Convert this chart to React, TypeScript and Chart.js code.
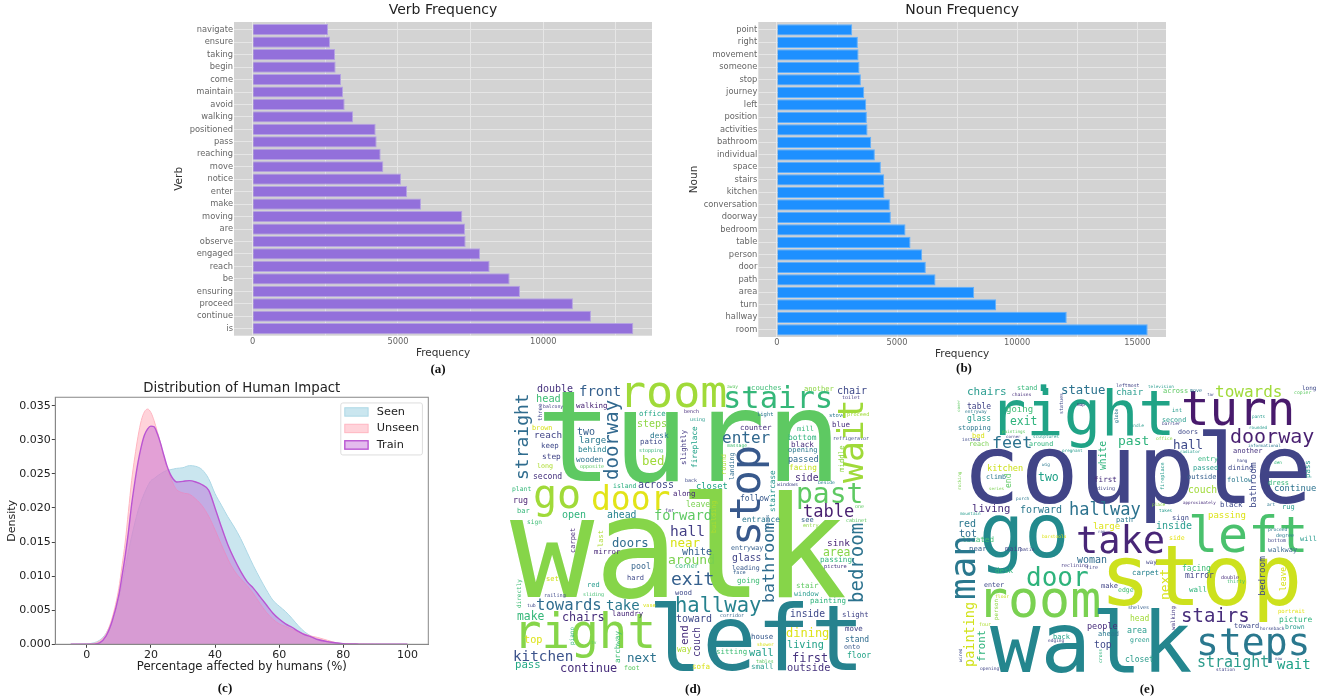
import React, { useEffect, useRef } from "react";
import Chart from "chart.js/auto";

const verbs = ["navigate","ensure","taking","begin","come","maintain","avoid","walking","positioned","pass","reaching","move","notice","enter","make","moving","are","observe","engaged","reach","be","ensuring","proceed","continue","is"];
const verbCounts = [2592,2660,2833,2855,3040,3108,3165,3452,4232,4266,4404,4495,5103,5310,5791,7213,7305,7328,7821,8154,8842,9197,11020,11640,13096];
const nouns = ["point","right","movement","someone","stop","journey","left","position","activities","bathroom","individual","space","stairs","kitchen","conversation","doorway","bedroom","table","person","door","path","area","turn","hallway","room"];
const nounCounts = [3133,3369,3397,3438,3494,3632,3716,3743,3771,3923,4076,4326,4464,4478,4700,4741,5351,5560,6045,6197,6599,8207,9122,12062,15431];

const kdeX = [-5,0,2,4,6,8,10,11,12,13,14,15,16,17,18,19,20,21,22,23,24,25,26,27,28,30,32,34,36,38,40,42,44,46,48,50,52,54,56,58,60,62,64,66,68,70,72,75,78,80,85,90,100];
const seenDensity = [0,.00005,.0002,.0006,.0016,.0036,.0068,.0088,.0112,.0136,.0158,.0178,.0196,.021,.0222,.0232,.024,.0243,.0247,.025,.0253,.0255,.0256,.0257,.0258,.0259,.0262,.0261,.0256,.0243,.0221,.0204,.0187,.0172,.0155,.0135,.0115,.0097,.008,.0065,.0056,.0048,.0038,.0027,.0018,.0012,.0008,.0004,.0002,.0001,.00003,.00001,0];
const unseenDensity = [0,.00002,.0001,.0005,.0015,.004,.0082,.0115,.015,.0195,.024,.0275,.0305,.0328,.0341,.0345,.034,.0328,.0312,.0295,.0276,.026,.0246,.0235,.0227,.0222,.022,.0213,.0203,.0188,.0168,.0146,.0125,.0108,.0096,.0086,.0074,.006,.0047,.0037,.003,.0026,.0022,.0018,.0015,.0012,.001,.0006,.0002,.0001,.00005,.00002,0];
const trainDensity = [0,0,.00002,.0002,.0012,.0035,.0072,.01,.013,.0165,.0205,.0238,.0267,.029,.0307,.0316,.032,.0319,.0309,.0295,.0278,.0262,.025,.0242,.0238,.0239,.024,.0238,.0234,.0226,.02,.0172,.0146,.0125,.0107,.0092,.0082,.007,.0058,.0046,.0037,.003,.0025,.0019,.0014,.0011,.0007,.0004,.0002,.0001,.00003,.00001,0];

type W = [string, number, number, number, string, number?];

const cloudD: W[] = [
["walk",510,597,140,"#86d549"],["turn",536,481,127,"#5ec962"],["left",648,670,90,"#26828e"],["right",513,648,47.5,"#86d549"],["room",619,407,45,"#a0da39"],
["stairs",723,408,30.5,"#35b779"],["go",533,508,40,"#a0da39"],["door",591,510,33,"#e2e418"],["past",796,503,28,"#5ec962"],["table",803,517,17,"#481f70"],
["enter",722,443,16,"#31688e"],["chair",837,394,10,"#3e4989"],["couches",751,390,7.3,"#3dbc74"],["another",804,391,7.1,"#8ed645"],["away",727,388,4.6,"#5ec962"],
["toilet",842,399,5,"#443983"],["light",757,416,5.5,"#2a788e"],["stove",829,417,5.5,"#2a788e"],["proceed",847,416,5.3,"#a0da39"],["counter",740,430,7.5,"#46327e"],
["blue",832,427,7.5,"#472d7b"],["mill",797,431,7,"#35b779"],["bottom",788,440,7.9,"#2eb37c"],["refrigerator",833,440,5,"#3e4989"],["massage",727,447,4.8,"#42be71"],
["black",791,447,7.6,"#472d7b"],["opening",788,452,7,"#2a788e"],["passed",788,462,8.5,"#31688e"],["facing",789,470,7.7,"#c5e021"],["side",795,481,9.8,"#472d7b"],
["windows",777,486,5,"#414487"],["beside",818,484,4.7,"#26828e"],["closet",696,489,8.8,"#20a386"],["follow",740,501,8,"#38598c"],["one",855,508,5,"#5ec962"],
["entrance",742,522,7.9,"#2a788e"],["see",801,522,7,"#35608d"],["cabinet",846,522,5,"#5ec962"],["entry",803,527,5.2,"#8ed645"],["bench",684,413,5,"#472d7b"],["using",690,421,5,"#2a9d8f"],["back",685,482,5,"#3e4989"],
["double",537,392,10,"#46327e"],["front",579,396,14,"#35608d"],["head",536,402,10.3,"#3dbc74"],["balcony",543,408,4.8,"#433e85"],["walking",576,408,7.5,"#482475"],
["office",639,416,7.4,"#21a585"],["steps",637,427,10,"#8ed645"],["reach",534,438,9.3,"#414487"],["two",577,435,10,"#355f8d"],["large",579,443,9,"#2a788e"],["brown",532,430,6.8,"#d8e219"],
["keep",541,448,7.4,"#3e4989"],["behind",578,452,7.9,"#26828e"],["desk",650,438,7.7,"#2a788e"],["patio",640,444,7.4,"#3e4989"],["stopping",639,452,5,"#35b779"],["bed",642,465,12.4,"#a0da39"],
["step",542,459,7.8,"#414487"],["wooden",576,462,7.6,"#2e6e8e"],["long",537,468,6.7,"#addc30"],["opposite",580,468,5,"#5ec962"],["second",533,479,8.1,"#46327e"],["plant",512,491,6.4,"#35b779"],
["island",613,488,6.5,"#29af7f"],["across",638,488,10,"#3f4788"],["along",673,496,7.5,"#482878"],["rug",513,503,8.3,"#481f70"],["bar",517,513,7,"#35b779"],["sign",527,524,6.2,"#3dbc74"],
["open",562,518,10,"#2fb47c"],["ahead",607,518,9.8,"#26828e"],["forward",654,520,13.8,"#5ec962"],["leave",686,507,8,"#7ad151"],["far",665,512,5,"#443983"],["hall",670,536,14.6,"#433e85"],
["hallway",675,612,20.5,"#26828e"],["near",670,547,12.5,"#d8e219"],["white",682,555,10,"#35608d"],["around",668,564,13,"#7ad151"],["exit",671,585,18,"#35608d"],["doors",612,547,12.2,"#2f6c8e"],
["mirror",594,554,7.3,"#482878"],["pool",631,569,8.3,"#3e6b91"],["hard",627,580,7,"#3e4989"],["set",546,581,7,"#d0e11c"],["red",587,587,7,"#2a9d8f"],["railing",544,597,5.2,"#3e4989"],
["sliding",583,596,5,"#42be71"],["tub",527,607,4.8,"#3e4989"],["towards",536,610,15.6,"#2f6c8e"],["take",606,610,14,"#2a788e"],["vase",643,607,5.3,"#d8e219"],["laundry",612,616,7.4,"#482878"],
["make",517,620,11.4,"#35b779"],["chairs",562,621,11.8,"#472d7b"],["top",524,643,10.2,"#dde318"],["tv",591,644,4.5,"#5ec962"],["kitchen",513,661,14.3,"#3b528b"],["pass",515,668,10.7,"#22a884"],
["next",627,662,12.5,"#2c728e"],["continue",560,672,11.9,"#472d7b"],["foot",624,670,6.5,"#5ec962"],["toward",676,622,10,"#3e4989"],["way",677,652,8,"#addc30"],["sofa",692,669,7.5,"#d8e219"],
["wood",675,595,7,"#3e4989"],["corner",675,568,6.5,"#35b779"],["entryway",731,550,6.7,"#355f8d"],["sink",827,546,9.5,"#482475"],["area",823,556,11.4,"#86d549"],["glass",732,561,9.8,"#414487"],
["leading",732,570,6.6,"#38598c"],["passing",820,562,7.6,"#2fb47c"],["picture",824,568,5.4,"#46327e"],["face",733,574,5.3,"#355f8d"],["going",737,583,7.6,"#3dbc74"],["stair",796,588,7.5,"#5ec962"],
["window",794,596,6.8,"#2a9d8f"],["painting",810,603,7.5,"#2eb37c"],["corridor",720,617,5,"#3e6b91"],["inside",790,617,9.7,"#3e4989"],["slight",842,617,7.4,"#414487"],["move",845,631,7.4,"#414487"],
["dining",786,637,12,"#dde318"],["house",751,639,7.4,"#38598c"],["stand",845,642,8,"#2f6c8e"],["shower",757,646,4.7,"#d8e219"],["living",787,648,10.2,"#1fa187"],["onto",844,649,6.7,"#38598c"],
["sitting",716,654,7.4,"#3dbc74"],["wall",749,656,10.3,"#1f9e89"],["first",792,662,12,"#46327e"],["floor",847,658,8,"#20a386"],["tables",756,663,4.9,"#5ec962"],["small",751,669,7.5,"#2a9d8f"],["outside",787,671,10.3,"#46327e"],
["straight",528,480,18,"#2f6c8e",1],["doorway",618,480,19,"#31688e",1],["three",542,421,5.8,"#404688",1],["slightly",686,465,7.3,"#443a83",1],["carpet",575,553,7,"#482878",1],["last",603,547,7,"#addc30",1],
["directly",521,608,6,"#3dbc74",1],["piano",574,645,6,"#35b779",1],["archway",620,663,7.6,"#3dbc74",1],["end",688,645,11,"#472d7b",1],["couch",700,657,10,"#46337f",1],["bathroom",774,603,16.7,"#2f6c8e",1],
["bedroom",863,603,19,"#2c728e",1],["stop",760,546,42,"#38598c",1],["wait",863,483,34.7,"#a0da39",1],["middle",844,472,7.4,"#8ed645",1],["fireplace",697,468,7.7,"#1fa187",1],["landing",734,480,6.5,"#2f6c8e",1],
["round",726,475,7,"#addc30",1],["staircase",775,512,7.7,"#21918c",1],["building",716,533,6.7,"#addc30",1],["leads",769,528,4.5,"#3e6b91",1],
];

const cloudE: W[] = [
["couple",962,503,97,"#414487"],["go",979,557,75,"#238a8d"],["take",1076,553,37,"#482677"],["stop",1100,605,84,"#cde11d"],["right",989,435,62,"#20a386"],["turn",1181,425,47.5,"#481a6c"],["left",1188,552,50,"#4ac16d"],
["towards",1215,397,16,"#a0da39"],["doorway",1230,443,20,"#481f70"],["room",977,617,51.6,"#7ad151"],["door",1026,586,26,"#2eb37c"],["walk",990,672,84,"#24868e"],["steps",1196,655,38,"#2a788e"],["stairs",1181,622,19,"#472d7b"],
["straight",1197,667,15,"#2c9c8c"],["wait",1277,669,14,"#1fa187"],["four",979,626,5,"#addc30"],["opening",980,670,4.6,"#414487"],["floor",995,598,4.7,"#c5e021"],["desk",995,573,7.5,"#2eb37c"],["main",1005,551,7,"#3e4989"],
["patio",1020,551,4.8,"#414487"],["near",969,551,7.3,"#355f8d"],["located",962,542,7.6,"#3dbc74"],["tot",959,537,10,"#2e6e8e"],["red",958,527,10,"#2a788e"],["enter",984,587,6.7,"#3e4989"],["barstools",1042,538,4.5,"#dde318"],
["woman",1077,563,10,"#2f6c8e"],["reclining",1061,567,5,"#443983"],["fire",1086,569,5,"#414487"],["make",1101,588,7,"#414487"],["edge",1118,592,6.5,"#42be71"],["people",1087,629,8.5,"#472d7b"],["ahead",1098,636,7,"#2a788e"],
["top",1094,648,9.8,"#3e4989"],["back",1053,639,7,"#1fa187"],["edging",1048,642,4.5,"#414487"],["shelves",1128,609,5,"#355f8d"],["carpet",1132,575,7.5,"#26828e"],["head",1130,621,8,"#a0da39"],["area",1127,633,8.3,"#2a9d8f"],
["green",1130,642,6.5,"#2a9d8f"],["closet",1125,662,8,"#2c9c8c"],["way",1146,564,6,"#414487"],["side",1169,540,6.5,"#e5e419"],["bottom",1268,542,5,"#414487"],["degree",1276,537,5,"#2a788e"],["will",1300,541,7,"#2a9d8f"],
["walkway",1268,552,6.9,"#3e6b91"],["facing",1182,571,8,"#3dbc74"],["mirror",1185,578,8,"#414487"],["double",1221,579,5,"#472d7b"],["thirty",1227,583,5,"#42be71"],["wall",1189,592,7.5,"#2eb37c"],["portrait",1278,613,5.6,"#e5e419"],
["picture",1279,622,7.9,"#2eb37c"],["toward",1234,628,7,"#3e4989"],["horseback",1260,630,4.5,"#3e4989"],["brown",1285,629,6.5,"#2a9d8f"],["station",1216,671,4.5,"#414487"],["now",1275,660,4,"#3e4989"],
["chairs",967,395,11,"#2a9d8f"],["stand",1017,390,6.8,"#35b779"],[".",1030,391,45,"#1fa187"],["chaises",1012,396,4.6,"#472d7b"],["statue",1061,394,12.3,"#2c728e"],["chair",1116,395,9,"#2a9d8f"],["leftmost",1116,387,4.9,"#414487"],
["table",967,409,8,"#414487"],["map",1077,406,4.4,"#472d7b"],["entryway",965,413,4.5,"#2a788e"],["going",1006,412,9,"#3dbc74"],["glass",967,421,8,"#2a9d8f"],["exit",1010,425,11.4,"#2eb37c"],["stopping",958,430,6.8,"#2a788e"],
["bed",972,438,7,"#d8e219"],["instead",962,441,4.4,"#3e4989"],["paintings",1002,433,4.3,"#5ec962"],["corner",1006,438,4,"#414487"],["sculptures",1033,438,4.3,"#2a9d8f"],["feet",992,448,16.7,"#2c728e"],["reach",969,446,6.7,"#7ad151"],
["around",1029,446,6.7,"#2eb37c"],["past",1118,445,13,"#2eb37c"],["pregnant",1062,452,4.3,"#2a9d8f"],["kitchen",987,471,8.6,"#cde11d"],["wig",1042,466,4.4,"#2a788e"],["climb",986,479,6.7,"#2a788e"],["two",1038,481,11.5,"#1fa187"],
["first",1094,482,7.6,"#472d7b"],["series",989,490,4.2,"#7ad151"],["diving",1097,490,5,"#414487"],["porch",1016,500,4.4,"#2a788e"],["living",972,512,10.6,"#472d7b"],["forward",1020,513,10,"#2a788e"],["hallway",1069,515,17,"#2c728e"],
["mountain",960,515,4.3,"#2a9d8f"],["path",1116,522,7,"#2a788e"],["large",1093,529,9,"#dde318"],["ran",1098,533,4,"#414487"],["television",1148,388,4.3,"#2a9d8f"],["across",1163,393,7,"#5ec962"],["move",1190,392,5,"#2a788e"],
["far",1207,396,4,"#3e4989"],["long",1302,390,6,"#3e4989"],["copier",1294,394,4.8,"#5ec962"],["int",1172,412,5.6,"#2a9d8f"],["pants",1252,418,4.4,"#2a9d8f"],["second",1162,422,6.7,"#2a9d8f"],["barrier",1162,425,4.4,"#414487"],
["candle",1128,427,4.4,"#2a9d8f"],["rounded",1249,429,4.3,"#2a9d8f"],["office",1156,440,4.6,"#8ed645"],["doors",1178,434,6.7,"#3e4989"],["hall",1173,449,12.5,"#3e4989"],["informational",1248,447,4.2,"#2a788e"],["radiator",1180,453,4.2,"#2a9d8f"],
["another",1233,453,7,"#46327e"],["entry",1198,461,6.7,"#2eb37c"],["hang",1237,462,4.3,"#3e4989"],["den",1274,464,4.4,"#35b779"],["passed",1193,470,7,"#2a9d8f"],["dining",1228,470,7,"#3e4989"],["outside",1187,479,7,"#355f8d"],
["follow",1227,482,7,"#2a788e"],["dress",1268,485,7,"#35b779"],["couch",1188,493,9.7,"#a0da39"],["continue",1274,491,8.8,"#2c728e"],["approximately",1183,504,4.2,"#472d7b"],["place",1152,506,4.4,"#8ed645"],["black",1220,507,7.5,"#3e4989"],
["art",1267,506,4.5,"#2a788e"],["rug",1282,509,7,"#2a9d8f"],["takes",1159,512,4.4,"#2a9d8f"],["passing",1208,518,9,"#dde318"],["sign",1172,520,7,"#3e4989"],["inside",1156,529,10,"#2a9d8f"],["proceed",1268,531,4.6,"#2a788e"],
["man",975,600,36,"#2a788e",1],["painting",974,667,13.5,"#d2e21b",1],["front",985,662,10.6,"#2eb37c",1],["person",998,620,5.8,"#8ed645",1],["wired",962,662,4.5,"#3e4989",1],["cross",1102,663,4.7,"#2eb37c",1],["next",1169,600,13,"#d8e219",1],
["bedroom",1265,596,9.5,"#3e4989",1],["leave",1286,591,8,"#d8e219",1],["walking",1175,630,5.7,"#443983",1],["white",1106,470,9.7,"#2eb37c",1],["statues",1063,414,5,"#3e4989",1],["globe",1118,423,4.8,"#2a788e",1],["cover",960,412,4,"#5ec962",1],
["end",1011,488,8,"#5ec962",1],["rocking",961,490,4.4,"#7ad151",1],["pass",1310,478,7.4,"#2a9d8f",1],["fireplace",1164,490,5.1,"#2a9d8f",1],["bathroom",1256,508,9.5,"#3e4989",1],
];

const SANS = '"DejaVu Sans"';

const plotBackground = {
  id: "plotBackground",
  beforeDraw(chart: any) {
    const { ctx, chartArea: a } = chart;
    ctx.save();
    ctx.fillStyle = "#d3d3d3";
    ctx.fillRect(a.left, a.top, a.right - a.left, a.bottom - a.top);
    ctx.restore();
  },
};

function barConfig(title: string, yTitle: string, names: string[], counts: number[], color: string, edge: string, g: any): any {
  return {
    type: "bar",
    data: {
      datasets: [{
        data: counts.map((v, i) => ({ x: v, y: i })),
        backgroundColor: color, borderColor: edge, borderWidth: 1,
        barPercentage: 0.9, categoryPercentage: 1,
      }],
    },
    plugins: [plotBackground],
    options: {
      indexAxis: "y", responsive: false, animation: false,
      layout: { padding: { right: g.padRight, bottom: g.padBottom, left: 0, top: 0 } },
      plugins: {
        legend: { display: false }, tooltip: { enabled: false },
        title: { display: true, text: title, fullSize: false, color: "#222", font: { family: SANS, size: 14, weight: "normal" }, padding: { top: 2, bottom: 3.2 } },
      },
      scales: {
        x: {
          type: "linear", min: g.xMin, max: g.xMax,
          afterBuildTicks: (s: any) => { s.ticks = g.xTicks.map((value: number) => ({ value })); },
          afterFit: (s: any) => { s.height = g.xH; },
          grid: { color: "#e6e6e6", lineWidth: 1, drawTicks: false }, border: { display: false },
          ticks: { maxRotation: 0, autoSkip: false, padding: 1, color: "#666", font: { family: SANS, size: 8.3 }, callback: (v: number) => (v % 5000 === 0 ? String(v) : "") },
          title: { display: true, text: "Frequency", color: "#333", font: { family: SANS, size: 10.5 }, padding: 0 },
        },
        y: {
          type: "linear", reverse: true, offset: false, min: g.yMin, max: g.yMax,
          afterBuildTicks: (s: any) => { s.ticks = names.map((_, value) => ({ value })); },
          afterFit: (s: any) => { s.width = g.yW; },
          grid: { color: "#e6e6e6", lineWidth: 1, drawTicks: false, offset: false }, border: { display: false },
          ticks: { autoSkip: false, padding: 1, color: "#666", font: { family: SANS, size: 8.3 }, callback: (v: number) => names[v] },
          title: { display: true, text: yTitle, color: "#333", font: { family: SANS, size: 10.5 }, padding: { top: g.yTitlePad, bottom: 0 } },
        },
      },
    },
  };
}

const axisFrame = {
  id: "axisFrame",
  afterDraw(chart: any) {
    const { ctx, chartArea: a } = chart;
    ctx.save();
    ctx.strokeStyle = "#888";
    ctx.lineWidth = 1;
    ctx.strokeRect(a.left, a.top, a.right - a.left, a.bottom - a.top);
    // legend, drawn from the datasets' own labels and colours
    const lx = a.left + 285.5, ly = a.top + 5.7;
    ctx.fillStyle = "#fff";
    ctx.strokeStyle = "#ddd";
    ctx.beginPath();
    ctx.roundRect(lx, ly, 81.6, 52, 2);
    ctx.fill();
    ctx.stroke();
    chart.data.datasets.forEach((d: any, i: number) => {
      const y = ly + 9 + i * 16.5;
      ctx.fillStyle = d.backgroundColor;
      ctx.fillRect(lx + 4, y - 4.2, 23.3, 8.4);
      ctx.strokeStyle = d.borderColor;
      ctx.lineWidth = d.borderWidth;
      ctx.strokeRect(lx + 4, y - 4.2, 23.3, 8.4);
      ctx.fillStyle = "#222";
      ctx.font = `11.3px ${SANS}`;
      ctx.textBaseline = "middle";
      ctx.textAlign = "left";
      ctx.fillText(d.label, lx + 36, y);
    });
    ctx.restore();
  },
};

const densityConfig: any = {
  type: "line",
  data: {
    datasets: [
      { label: "Seen", data: kdeX.map((x, i) => ({ x, y: seenDensity[i] })), order: 3, fill: "origin", backgroundColor: "rgba(173,216,230,0.65)", borderColor: "rgb(173,216,230)", borderWidth: 1 },
      { label: "Unseen", data: kdeX.map((x, i) => ({ x, y: unseenDensity[i] })), order: 2, fill: "origin", backgroundColor: "rgba(255,182,193,0.6)", borderColor: "rgb(255,182,193)", borderWidth: 1 },
      { label: "Train", data: kdeX.map((x, i) => ({ x, y: trainDensity[i] })), order: 1, fill: "origin", backgroundColor: "rgba(186,85,211,0.4)", borderColor: "rgb(186,85,211)", borderWidth: 1.4 },
    ],
  },
  plugins: [axisFrame],
  options: {
    responsive: false, animation: false,
    elements: { point: { radius: 0 }, line: { cubicInterpolationMode: "monotone" } },
    layout: { padding: { right: 11.7, bottom: 6.4, left: 0, top: 0 } },
    plugins: {
      legend: { display: false }, tooltip: { enabled: false },
      title: { display: true, text: "Distribution of Human Impact", fullSize: false, color: "#222", font: { family: SANS, size: 13.3, weight: "normal" }, padding: { top: 5.5, bottom: 0.8 } },
    },
    scales: {
      x: {
        type: "linear", min: -9.8, max: 106.5,
        afterBuildTicks: (s: any) => { s.ticks = [0, 20, 40, 60, 80, 100].map((value) => ({ value })); },
        afterFit: (s: any) => { s.height = 29.3; },
        grid: { drawOnChartArea: false, tickLength: 3.5, tickColor: "#444" }, border: { color: "#888" },
        ticks: { maxRotation: 0, padding: 1, color: "#222", font: { family: SANS, size: 11 } },
        title: { display: true, text: "Percentage affected by humans (%)", color: "#222", font: { family: SANS, size: 11.7 }, padding: 0 },
      },
      y: {
        type: "linear", min: 0, max: 0.03623,
        afterBuildTicks: (s: any) => { s.ticks = [0, 0.005, 0.01, 0.015, 0.02, 0.025, 0.03, 0.035].map((value) => ({ value })); },
        afterFit: (s: any) => { s.width = 55.3; },
        grid: { drawOnChartArea: false, tickLength: 3.5, tickColor: "#444" }, border: { color: "#888" },
        ticks: { padding: 1, color: "#222", font: { family: SANS, size: 11 }, callback: (v: number) => v.toFixed(3) },
        title: { display: true, text: "Density", color: "#222", font: { family: SANS, size: 11 }, padding: { top: 5.4, bottom: 0 } },
      },
    },
  },
};

const wordLabels = {
  id: "wordLabels",
  afterDatasetsDraw(chart: any) {
    const { ctx, scales } = chart;
    const words: W[] = chart.options.plugins.wordLabels.words;
    ctx.save();
    ctx.textBaseline = "alphabetic";
    ctx.textAlign = "left";
    words.forEach(([text, x, y, size, color, vertical]) => {
      ctx.save();
      ctx.translate(scales.x.getPixelForValue(x), scales.y.getPixelForValue(y));
      if (vertical) ctx.rotate(-Math.PI / 2);
      ctx.font = `${size}px "DejaVu Sans Mono"`;
      ctx.fillStyle = color;
      ctx.fillText(text, 0, 0);
      ctx.restore();
    });
    ctx.restore();
  },
};

function cloudConfig(words: W[], xMin: number, xMax: number): any {
  return {
    type: "scatter",
    data: { datasets: [{ data: words.map((w) => ({ x: w[1], y: w[2] })), pointRadius: 0 }] },
    plugins: [wordLabels],
    options: {
      responsive: false, animation: false,
      layout: { padding: 0 },
      plugins: { legend: { display: false }, tooltip: { enabled: false }, wordLabels: { words } },
      scales: {
        x: { type: "linear", display: false, min: xMin, max: xMax },
        y: { type: "linear", display: false, reverse: true, min: 375, max: 680 },
      },
    },
  };
}

function Panel({ left, top, width, height, config }: any) {
  const ref = useRef<HTMLCanvasElement>(null);
  useEffect(() => {
    const chart = new Chart(ref.current as HTMLCanvasElement, config);
    return () => chart.destroy();
  }, []);
  return <canvas ref={ref} width={width} height={height} style={{ position: "absolute", left, top, width, height }} />;
}

function Caption({ x, y, text }: { x: number; y: number; text: string }) {
  return (
    <div style={{ position: "absolute", left: x - 30, top: y - 9, width: 60, height: 18, lineHeight: "18px", textAlign: "center", fontFamily: '"Liberation Serif"', fontWeight: 700, fontSize: 13, color: "#111" }}>
      {text}
    </div>
  );
}

const verbGeom = { padRight: 8, padBottom: 2.7, xMin: -643, xMax: 13740, xTicks: [0, 2500, 5000, 7500, 10000, 12500], xH: 23.6, yMin: -0.62, yMax: 24.56, yW: 64, yTitlePad: 2.7 };
const nounGeom = { padRight: 4, padBottom: 1.4, xMin: -776, xMax: 16193, xTicks: [0, 2500, 5000, 7500, 10000, 12500, 15000], xH: 23.6, yMin: -0.62, yMax: 24.58, yW: 78.3, yTitlePad: 7.7 };

export default function App() {
  return (
    <div style={{ position: "absolute", left: 0, top: 0, width: 1330, height: 700, background: "#fff", overflow: "hidden" }}>
      <Panel left={170} top={0} width={490} height={362} config={barConfig("Verb Frequency", "Verb", verbs, verbCounts, "#9370db", "#b5a3e2", verbGeom)} />
      <Panel left={680} top={0} width={490} height={362} config={barConfig("Noun Frequency", "Noun", nouns, nounCounts, "#1e90ff", "#5fb0ff", nounGeom)} />
      <Panel left={0} top={375} width={440} height={305} config={densityConfig} />
      <Panel left={500} top={375} width={380} height={305} config={cloudConfig(cloudD, 500, 880)} />
      <Panel left={950} top={375} width={380} height={305} config={cloudConfig(cloudE, 950, 1330)} />
      <Caption x={438} y={369} text="(a)" />
      <Caption x={964} y={368} text="(b)" />
      <Caption x={225} y={688} text="(c)" />
      <Caption x={693} y={689} text="(d)" />
      <Caption x={1147} y={689} text="(e)" />
    </div>
  );
}
